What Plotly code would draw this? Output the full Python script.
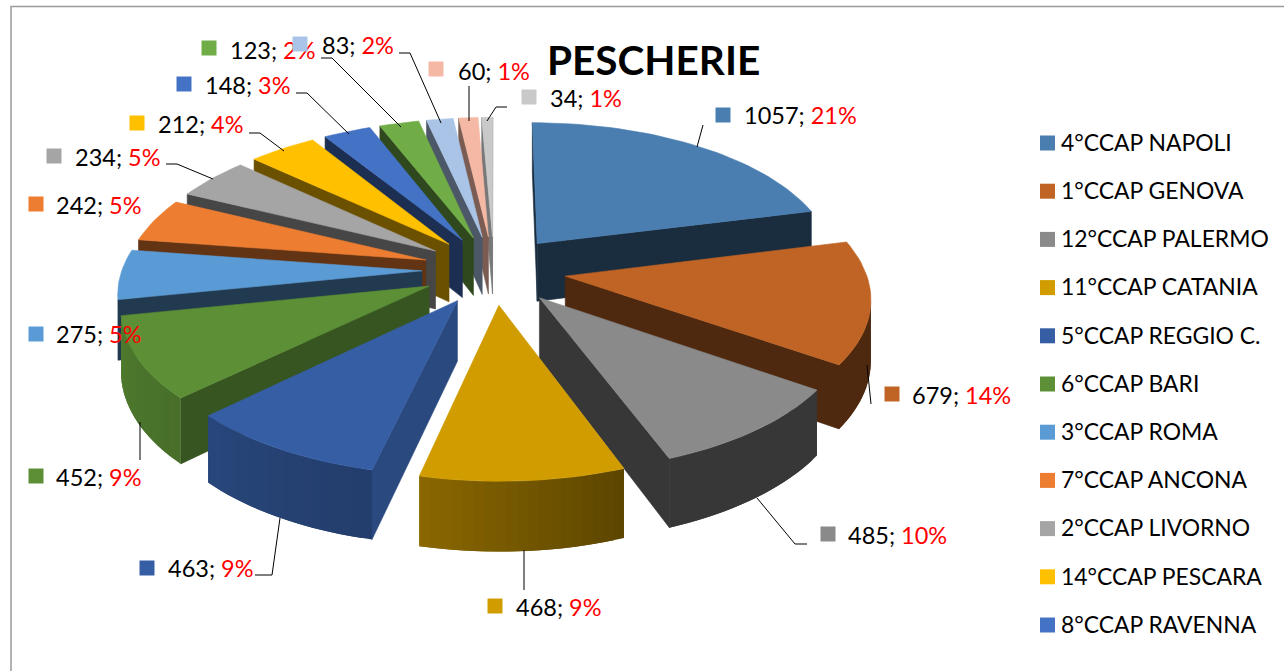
import numpy as np
import plotly.graph_objects as go

values = [1057, 679, 485, 468, 463, 452, 275, 242, 234, 212, 148, 123, 83, 60, 34]
legend_names = ["4°CCAP NAPOLI", "1°CCAP GENOVA", "12°CCAP PALERMO", "11°CCAP CATANIA",
                "5°CCAP REGGIO C.", "6°CCAP BARI", "3°CCAP ROMA", "7°CCAP ANCONA",
                "2°CCAP LIVORNO", "14°CCAP PESCARA", "8°CCAP RAVENNA"]
colors = ["#4a7eb0", "#c06425", "#8a8a8a", "#d09c00", "#365ea4", "#5c8f36", "#5b9bd5", "#ed7d31",
          "#a5a5a5", "#ffc000", "#4472c4", "#70ad47", "#a9c4e6", "#f4b8a4", "#c9c9c9"]
wall_shade = [.36, .41, .40, .45, .78, .60, .38, .42, .43, .42, .42, .42, .45, .5, .6]
rim_shade = [(.36, .36), (.41, .41), (.40, .40), (.66, .45), (.75, .66), (.86, .78), (.38, .38),
             (.42, .42), (.43, .43), (.42, .42), (.42, .42), (.42, .42), (.45, .45), (.5, .5), (.6, .6)]

# projection parameters (pixel-scaled axes)
CX, CY, R, RQ, K, EXPLODE, DEPTH = 494, 270, 300, 143, .13, .24, 59


def project(X, Y, z=0.0):
    w = 1 + K * Y
    return CX + R * X / w, CY - RQ * Y / w + z * DEPTH / w


def shade(hex_color, f):
    r, g, b = (int(hex_color[i:i + 2], 16) for i in (1, 3, 5))
    return f"rgb({int(r * f)},{int(g * f)},{int(b * f)})"


def area(xs, ys):
    return sum(xs[i] * ys[(i + 1) % len(xs)] - xs[(i + 1) % len(xs)] * ys[i] for i in range(len(xs)))


fig = go.Figure()


def poly(xs, ys, color, width=.6):
    fig.add_trace(go.Scatter(x=list(xs) + [xs[0]], y=list(ys) + [ys[0]], mode="lines", fill="toself",
                             fillcolor=color, line=dict(color=color, width=width),
                             hoverinfo="skip", showlegend=False))


def quad(P, Q, color, width=.6):
    xs = [project(P[0], P[1])[0], project(Q[0], Q[1])[0], project(Q[0], Q[1], 1)[0], project(P[0], P[1], 1)[0]]
    ys = [project(P[0], P[1])[1], project(Q[0], Q[1])[1], project(Q[0], Q[1], 1)[1], project(P[0], P[1], 1)[1]]
    if area(xs, ys) < 0:
        poly(xs, ys, color, width)


total = sum(values)
edges = np.concatenate([[0], np.cumsum(values)]) / total * 2 * np.pi
slices = []
for i, v in enumerate(values):
    a0, a1 = edges[i], edges[i + 1]
    mid = (a0 + a1) / 2
    slices.append((EXPLODE * np.cos(mid), i, a0, a1, mid))

for oy, i, a0, a1, mid in sorted(slices, key=lambda s: -s[0]):
    ox = EXPLODE * np.sin(mid)
    col = colors[i]
    n = max(6, int((a1 - a0) / 0.03))
    th = np.linspace(a0, a1, n + 1)
    rim = [(ox + np.sin(t), oy + np.cos(t)) for t in th]
    apex = (ox, oy)
    quad(apex, rim[0], shade(col, wall_shade[i]))
    quad(rim[-1], apex, shade(col, wall_shade[i]))
    s0, s1 = rim_shade[i]
    # each strip overlaps the next one so that no seam shows between them;
    # shade lists run left-to-right on screen, angles run right-to-left on the front
    for j in range(n):
        f = s0 + (s1 - s0) * (1 - j / max(n - 1, 1))
        quad(rim[j], rim[min(j + 2, n)], shade(col, f), 0)
    top = [project(*apex)] + [project(*p) for p in rim]
    poly([p[0] for p in top], [p[1] for p in top], col)

# data labels: position of the swatch centre, the text start and leader lines
label_swatch = [(723, 115), (892, 394), (828, 534), (495, 606), (147, 568), (36, 476), (36, 334),
                (36, 204), (54, 156), (137, 123), (184, 84), (209, 48), (300, 44), (436, 69), (529, 97)]
label_text = [(744, 118), (912, 398), (848, 538), (516, 610), (168, 571), (56, 480), (56, 337),
              (56, 208), (75, 160), (158, 127), (205, 88), (230, 53), (322, 48), (458, 74), (550, 101)]
leaders = [[(697, 147), (703, 125)], [(867, 365), (871, 404)], [(757, 498), (795, 544), (807, 544)],
           [(524, 550), (524, 590)], [(280, 518), (272, 575), (255, 575)], [(140, 422), (140, 460)],
           None, None, [(166, 164), (177, 164), (213, 179)], [(249, 133), (260, 133), (284, 151)],
           [(296, 93), (307, 93), (349, 134)], [(321, 58), (332, 58), (401, 127)],
           [(399, 53), (410, 53), (441, 123)], [(469, 86), (469, 121)], [(507, 107), (496, 107), (487, 121)]]

FONT = "Lato, Carlito, Calibri, sans-serif"
for pts in leaders:
    if pts:
        fig.add_trace(go.Scatter(x=[p[0] for p in pts], y=[p[1] for p in pts], mode="lines",
                                 line=dict(color="#000000", width=1), hoverinfo="skip", showlegend=False))

for i, v in enumerate(values):
    pct = round(v / total * 100)
    fig.add_trace(go.Scatter(x=[label_text[i][0]], y=[label_text[i][1]], mode="text",
                             text=[f'{v}; <span style="color:#ff0000">{pct}%</span>'],
                             textposition="middle right", textfont=dict(family=FONT, size=23.5, color="#000000"),
                             hoverinfo="skip", showlegend=False))
    fig.add_trace(go.Scatter(x=[label_swatch[i][0]], y=[label_swatch[i][1]], mode="markers",
                             marker=dict(symbol="square", size=15, color=colors[i], line=dict(width=0)),
                             hoverinfo="skip", showlegend=False))

# legend column
legend_top, legend_step = 143, 48.2
for i, name in enumerate(legend_names):
    y = legend_top + i * legend_step
    fig.add_trace(go.Scatter(x=[1047.5], y=[y], mode="markers", name=name,
                             marker=dict(symbol="square", size=15, color=colors[i], line=dict(width=0)),
                             hoverinfo="skip", showlegend=False))
    fig.add_trace(go.Scatter(x=[1061], y=[y + 2], mode="text", text=[name], textposition="middle right",
                             textfont=dict(family=FONT, size=22.9, color="#000000"),
                             hoverinfo="skip", showlegend=False))

annotations = [
    dict(x=653.5, y=59, xref="x", yref="y", text="<b>PESCHERIE</b>", showarrow=False,
         font=dict(family=FONT, size=40.5, color="#000000")),
    dict(x=642, y=-6, xref="x", yref="y", text="<b>g</b>", showarrow=False,
         font=dict(family="Liberation Serif", size=22, color="#000000")),
    dict(x=770, y=-6, xref="x", yref="y", text="<b>p</b>", showarrow=False,
         font=dict(family="Liberation Serif", size=22, color="#000000")),
]

fig.update_layout(
    width=1284, height=671, margin=dict(l=0, r=0, t=0, b=0, pad=0), showlegend=False,
    paper_bgcolor="#ffffff", plot_bgcolor="#ffffff",
    xaxis=dict(range=[0, 1284], visible=False, fixedrange=True),
    yaxis=dict(range=[671, 0], visible=False, fixedrange=True),
    annotations=annotations,
    shapes=[dict(type="rect", x0=11, y0=6.5, x1=1320, y1=720, xref="x", yref="y", layer="below",
                 line=dict(color="#9a9a9a", width=1.5))],
)

fig.write_html("out.html", config={"displayModeBar": False},
               post_script="document.body.style.margin='0';document.documentElement.style.overflow='hidden';")
